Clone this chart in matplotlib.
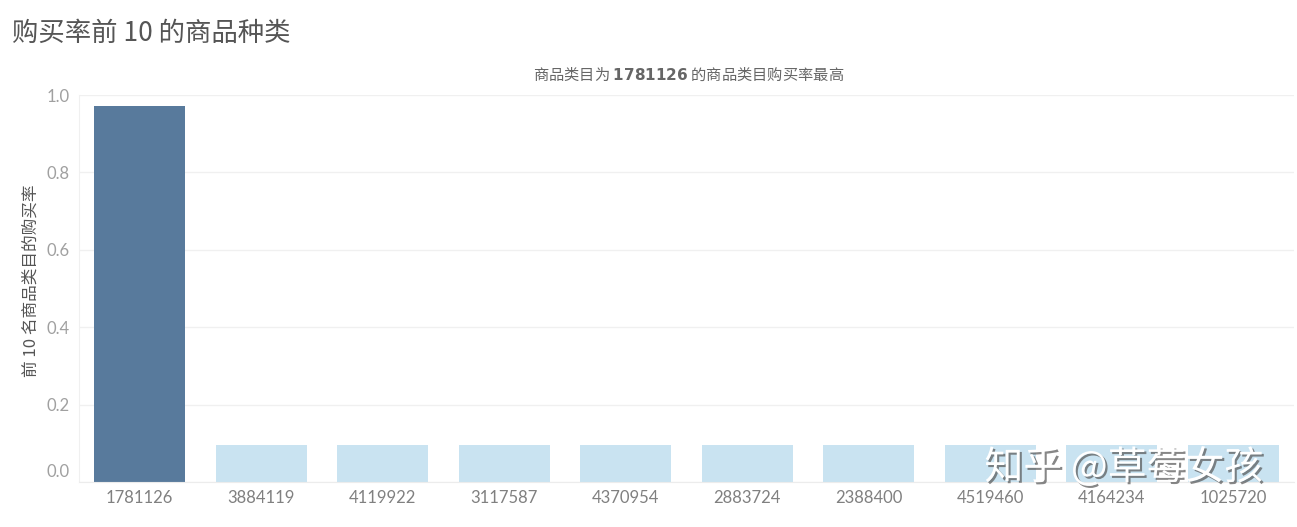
import matplotlib.pyplot as plt
import matplotlib.transforms as mtransforms
import matplotlib.patheffects as pe
import numpy as np

plt.rcParams['font.family'] = ['Noto Sans CJK SC', 'DejaVu Sans']

# data
categories = ['1781126', '3884119', '4119922', '3117587', '4370954',
              '2883724', '2388400', '4519460', '4164234', '1025720']
buy_rate = [0.972, 0.095, 0.095, 0.095, 0.095,
            0.095, 0.095, 0.095, 0.095, 0.095]
highlight = '1781126'
y_ticks = [0.0, 0.2, 0.4, 0.6, 0.8, 1.0]

dark = '#587a9c'
light = '#c9e3f1'

fig = plt.figure(figsize=(12.97, 5.27), dpi=100)
ax = fig.add_axes([0.0609, 0.0854, 0.9368, 0.7343])

x = np.arange(len(categories))
colors = [dark if c == highlight else light for c in categories]
ax.bar(x, buy_rate, width=0.75, color=colors, zorder=2)

ax.set_xlim(-0.5, len(categories) - 0.5)
ax.set_ylim(0, 1.0)
ax.set_xticks(x)
ax.set_xticklabels(categories, fontsize=12, color='#808080', family='Lato')
ax.set_yticks(y_ticks)
ax.set_yticklabels([f'{t:.1f}' for t in y_ticks], fontsize=12, color='#a0a0a0',
                   family='Lato')
ax.tick_params(axis='both', length=0, pad=6)
ax.tick_params(axis='y', pad=7)

# tableau style: bottom label nudged up
off = mtransforms.ScaledTranslation(0, 8 / 72, fig.dpi_scale_trans)
lbl0 = ax.get_yticklabels()[0]
lbl0.set_transform(lbl0.get_transform() + off)

ax.grid(axis='y', color='#f0f0f0', linewidth=1, zorder=0)
for s in ['top', 'right']:
    ax.spines[s].set_visible(False)
ax.spines['left'].set_color('#f0f0f0')
ax.spines['bottom'].set_color('#ececec')

ax.set_ylabel('前 10 名商品类目的购买率', fontsize=12, color='#555555')
ax.yaxis.set_label_coords(-0.032, 0.52)

fig.text(0.009, 0.937, '购买率前 10 的商品种类', fontsize=19, color='#555555',
         ha='left', va='center')
fig.text(0.531, 0.857, '商品类目为 $\\bf{1781126}$ 的商品类目购买率最高',
         fontsize=11, color='#666666', ha='center', va='center')

# watermark
fig.text(0.759, 0.112, '知乎 @草莓女孩', fontsize=28, color='white',
         ha='left', va='center', zorder=5,
         path_effects=[pe.withSimplePatchShadow(offset=(1.5, -1.5),
                                               shadow_rgbFace='#555555',
                                               alpha=0.7)])

fig.savefig('out.png', dpi=100, facecolor='white')
